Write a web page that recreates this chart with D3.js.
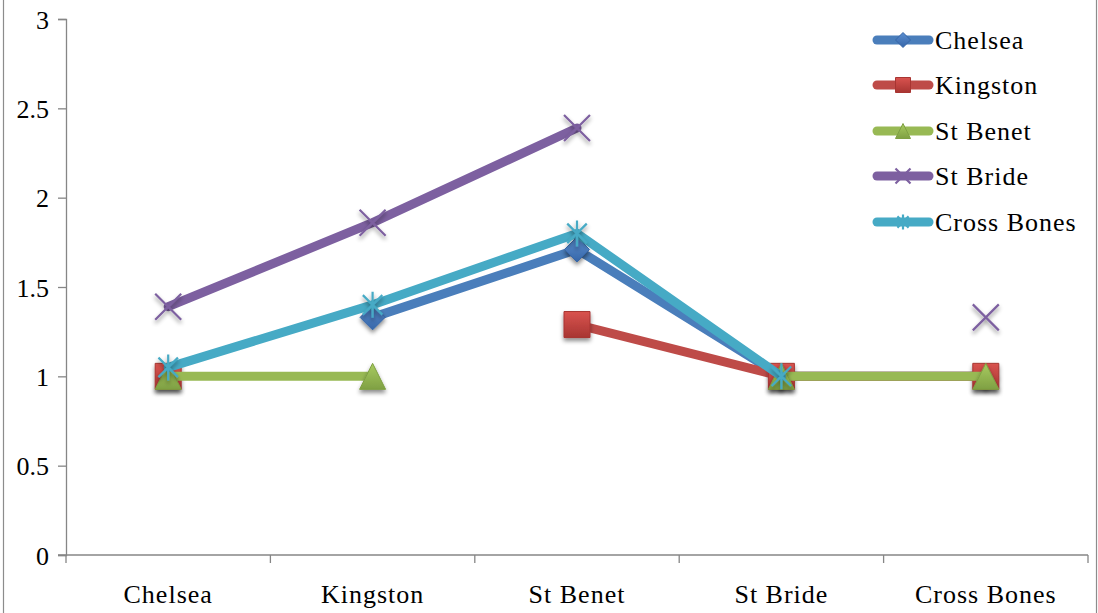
<!DOCTYPE html>
<html>
<head>
<meta charset="utf-8">
<script src="https://cdn.jsdelivr.net/npm/d3@7/dist/d3.min.js"></script>
<style>
  html, body { margin: 0; padding: 0; background: #fff; }
  svg { display: block; }
  text { font-family: "Liberation Serif", "Times New Roman", serif; fill: #000; }
</style>
</head>
<body>
<svg id="chart" width="1098" height="613"></svg>
<script>
// Categories along the x axis
const categories = ["Chelsea", "Kingston", "St Benet", "St Bride", "Cross Bones"];
// Series names (one line per site)
const seriesNames = ["Chelsea", "Kingston", "St Benet", "St Bride", "Cross Bones"];
// Values per series; null where a site is compared with itself
const chelseaValues    = [null, 1.33, 1.71, 1.0, 1.0];
const kingstonValues   = [1.0, null, 1.29, 1.0, 1.0];
const stBenetValues    = [1.0, 1.0, null, 1.0, 1.0];
const stBrideValues    = [1.39, 1.86, 2.39, null, 1.33];
const crossBonesValues = [1.05, 1.40, 1.80, 1.0, null];
// Y axis tick values
const yTicks = [0, 0.5, 1, 1.5, 2, 2.5, 3];

const seriesValues = [chelseaValues, kingstonValues, stBenetValues, stBrideValues, crossBonesValues];
const lineColors   = ["#4A7EBB", "#BE4B48", "#98B954", "#7D60A0", "#46AAC5"];
const markerLight  = ["#5B8ED0", "#D9534F", "#A8CB60", "#8A6BB0", "#4FB6D0"];
const markerDark   = ["#3666A8", "#A83532", "#7FA043", "#7D60A0", "#46AAC5"];
const markerKinds  = ["diamond", "square", "triangle", "x", "star"];

const svg = d3.select("#chart");
const W = 1098, H = 613;
const plot = { left: 66, right: 1088, top: 19, bottom: 555 };

const defs = svg.append("defs");
const shadow = defs.append("filter").attr("id", "mshadow")
  .attr("x", "-50%").attr("y", "-50%").attr("width", "200%").attr("height", "200%");
shadow.append("feDropShadow").attr("dx", 0).attr("dy", 3).attr("stdDeviation", 2)
  .attr("flood-color", "#000").attr("flood-opacity", 0.45);

seriesNames.forEach((n, i) => {
  const g = defs.append("linearGradient").attr("id", "grad" + i)
    .attr("x1", 0).attr("y1", 0).attr("x2", 0).attr("y2", 1);
  g.append("stop").attr("offset", "0%").attr("stop-color", markerLight[i]);
  g.append("stop").attr("offset", "100%").attr("stop-color", markerDark[i]);
});

// Outer chart frame
svg.append("line").attr("x1", 3.5).attr("x2", 3.5).attr("y1", 0).attr("y2", H)
  .attr("stroke", "#8c8c8c").attr("stroke-width", 1.2);
svg.append("line").attr("x1", W - 1.5).attr("x2", W - 1.5).attr("y1", 0).attr("y2", H)
  .attr("stroke", "#8c8c8c").attr("stroke-width", 1.2);

const x = d3.scaleBand().domain(categories).range([plot.left, plot.right]).padding(0);
const y = d3.scaleLinear().domain([0, 3]).range([plot.bottom, plot.top]);
const cx = c => x(c) + x.bandwidth() / 2;

// Y axis
const yAxis = svg.append("g").attr("transform", `translate(${plot.left},0)`)
  .call(d3.axisLeft(y).tickValues(yTicks).tickSize(8).tickPadding(9)
    .tickFormat(d => String(d)));
yAxis.select(".domain").attr("stroke", "#868686").attr("stroke-width", 1.3);
yAxis.selectAll(".tick line").attr("stroke", "#868686").attr("stroke-width", 1.3);
yAxis.selectAll(".tick text").style("font-size", "26px")
  .style("font-family", "'Liberation Serif', serif").attr("dy", "0.35em");

// X axis: tick marks on band boundaries, labels at band centres
const xAxis = svg.append("g").attr("transform", `translate(0,${plot.bottom})`);
xAxis.append("line").attr("x1", plot.left - 8).attr("x2", plot.right)
  .attr("y1", 0).attr("y2", 0).attr("stroke", "#868686").attr("stroke-width", 1.3);
const bounds = categories.map(c => x(c)).concat([plot.right]);
xAxis.selectAll("line.tk").data(bounds).join("line").attr("class", "tk")
  .attr("x1", d => d).attr("x2", d => d).attr("y1", 0).attr("y2", 8)
  .attr("stroke", "#868686").attr("stroke-width", 1.3);
xAxis.selectAll("text").data(categories).join("text")
  .attr("x", d => cx(d)).attr("y", 48).attr("text-anchor", "middle")
  .style("font-size", "26px").style("letter-spacing", "1px").text(d => d);

// Marker shapes
function markerPath(kind, s) {
  const h = s / 2;
  switch (kind) {
    case "diamond": return `M0,${-h}L${h},0L0,${h}L${-h},0Z`;
    case "square": return `M${-h},${-h}H${h}V${h}H${-h}Z`;
    case "triangle": return `M0,${-h}L${h},${h}H${-h}Z`;
    case "x": return `M${-h},${-h}L${h},${h}M${h},${-h}L${-h},${h}`;
    case "star": return `M${-h * 0.75},${-h * 0.75}L${h * 0.75},${h * 0.75}M${h * 0.75},${-h * 0.75}L${-h * 0.75},${h * 0.75}M0,${-h}V${h}`;
  }
}
function drawMarker(g, kind, i, s) {
  const p = g.append("path").attr("d", markerPath(kind, s));
  if (kind === "x" || kind === "star") {
    p.attr("fill", "none").attr("stroke", lineColors[i]).attr("stroke-width", 2.2);
  } else {
    p.attr("fill", `url(#grad${i})`).attr("stroke", markerDark[i]).attr("stroke-width", 1);
  }
  return p;
}
const markerSize = { diamond: 25, square: 26, triangle: 26, x: 26, star: 26 };

const line = d3.line().x(d => cx(d.c)).y(d => y(d.v));

// Split a series into runs of consecutive defined values
function runs(pts) {
  const out = [];
  let cur = [];
  pts.forEach(p => {
    if (p.v == null) { if (cur.length) out.push(cur); cur = []; }
    else cur.push(p);
  });
  if (cur.length) out.push(cur);
  return out.filter(r => r.length > 1);
}

seriesValues.forEach((vals, i) => {
  const pts = categories.map((c, k) => ({ c, v: vals[k] }));
  const g = svg.append("g").attr("class", "series");
  g.selectAll("path.seg").data(runs(pts)).join("path").attr("class", "seg")
    .attr("d", line)
    .attr("fill", "none").attr("stroke", lineColors[i]).attr("stroke-width", 9)
    .attr("stroke-linecap", "round").attr("stroke-linejoin", "round");
  pts.filter(d => d.v != null).forEach(d => {
    const mg = g.append("g").attr("transform", `translate(${cx(d.c)},${y(d.v)})`)
      .attr("filter", "url(#mshadow)");
    drawMarker(mg, markerKinds[i], i, markerSize[markerKinds[i]]);
  });
});

// Legend
const legend = svg.append("g");
const legendRows = [40, 85, 131, 176, 222];
seriesNames.forEach((n, i) => {
  const row = legend.append("g").attr("transform", `translate(0,${legendRows[i]})`);
  row.append("line").attr("x1", 877).attr("x2", 929).attr("y1", 0).attr("y2", 0)
    .attr("stroke", lineColors[i]).attr("stroke-width", 9).attr("stroke-linecap", "round");
  const mg = row.append("g").attr("transform", "translate(903,0)");
  drawMarker(mg, markerKinds[i], i, 15);
  row.append("text").attr("x", 935).attr("y", 0).attr("dy", "0.35em")
    .style("font-size", "26px").style("letter-spacing", "1px").text(n);
});
</script>
</body>
</html>
